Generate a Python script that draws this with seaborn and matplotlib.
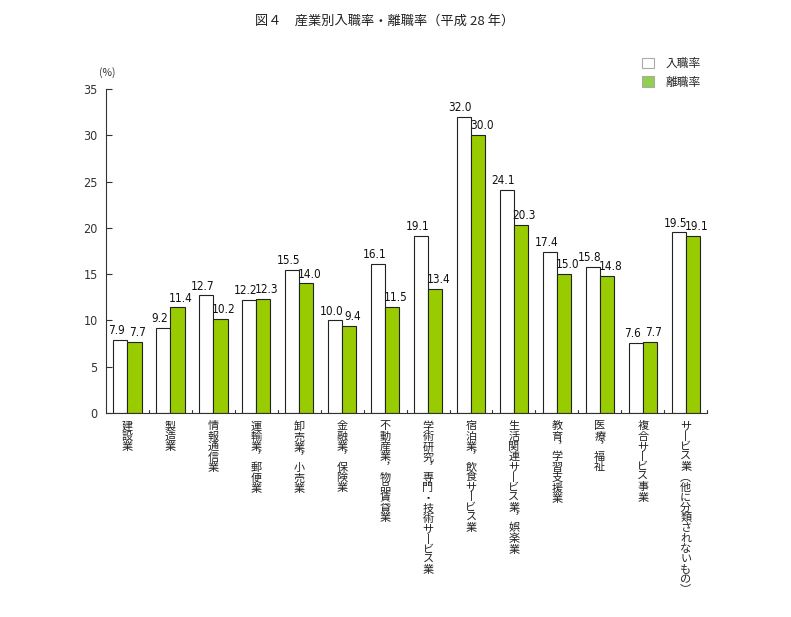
import matplotlib
matplotlib.use("Agg")
import matplotlib.pyplot as plt
from matplotlib import font_manager
import seaborn as sns
import pandas as pd
from matplotlib.patches import Patch

categories = [
    "建設業", "製造業", "情報通信業", "運輸業，郵便業", "卸売業，小売業",
    "金融業，保険業", "不動産業，物品賃貸業", "学術研究，専門・技術サービス業",
    "宿泊業，飲食サービス業", "生活関連サービス業，娯楽業", "教育，学習支援業",
    "医療，福祉", "複合サービス事業", "サービス業（他に分類されないもの）",
]
hire_rate = [7.9, 9.2, 12.7, 12.2, 15.5, 10.0, 16.1, 19.1, 32.0, 24.1, 17.4, 15.8, 7.6, 19.5]
sep_rate = [7.7, 11.4, 10.2, 12.3, 14.0, 9.4, 11.5, 13.4, 30.0, 20.3, 15.0, 14.8, 7.7, 19.1]
series_names = ["入職率", "離職率"]
y_ticks = [0, 5, 10, 15, 20, 25, 30, 35]

sns.set_theme(style="white")
plt.rcParams['font.family'] = ['Noto Sans CJK JP', 'DejaVu Sans']

# pick a narrow font for numbers
try:
    font_manager.findfont(font_manager.FontProperties(family="Liberation Sans Narrow"),
                          fallback_to_default=False)
    num_font = dict(family="Liberation Sans Narrow")
except Exception:
    num_font = dict(family="DejaVu Sans", stretch="condensed")

df = pd.DataFrame({
    "cat": categories * 2,
    "val": hire_rate + sep_rate,
    "series": [series_names[0]] * len(categories) + [series_names[1]] * len(categories),
})

fig = plt.figure(figsize=(7.91, 6.17), dpi=100)
ax = fig.add_axes([0.134, 0.3306, 0.760, 0.5252])

green = "#99CC00"
sns.barplot(data=df, x="cat", y="val", hue="series", order=categories,
            hue_order=series_names, palette=["white", green], width=0.66,
            saturation=1, edgecolor="#222222", linewidth=0.8, legend=False,
            ax=ax, errorbar=None)

for k, cont in enumerate(ax.containers):
    dx = -2.5 if k == 0 else 2.5
    for bar in cont:
        h = bar.get_height()
        ax.annotate(f"{h:.1f}", (bar.get_x() + bar.get_width() / 2, h),
                    xytext=(dx, 2), textcoords="offset points", ha="center",
                    va="bottom", fontsize=8.5, color="#111111", **num_font)

ax.set_ylim(0, 35)
ax.set_xlim(-0.5, len(categories) - 0.5)
ax.set_yticks(y_ticks)
ax.set_yticklabels([str(t) for t in y_ticks], fontsize=9, color="#333333", **num_font)
ax.set_xlabel("")
ax.set_ylabel("")

vmap = {"，": "︐", "、": "︑", "（": "︵", "）": "︶", "ー": "丨"}
def vertical(s):
    return "\n".join(vmap.get(c, c) for c in s)

ax.set_xticks(range(len(categories)))
ax.set_xticklabels([vertical(c) for c in categories], fontsize=8, va="top",
                   linespacing=1.02, color="#222222")
ax.tick_params(axis="x", length=0, pad=6)
for b in range(1, len(categories) + 1):
    ax.plot([b - 0.5, b - 0.5], [0, 0.35], color="#333333", lw=0.8, clip_on=False)
ax.tick_params(axis="y", direction="in", length=4, width=0.8, color="#333333", left=True, pad=6)

for s in ["top", "right"]:
    ax.spines[s].set_visible(False)
for s in ["left", "bottom"]:
    ax.spines[s].set_color("#333333")
    ax.spines[s].set_linewidth(0.8)

fig.text(0.136, 0.877, "(%)", fontsize=7.5, ha="center", color="#333333")
fig.text(0.486, 0.965, "図４　産業別入職率・離職率（平成 28 年）", fontsize=9.5,
         ha="center", va="center", color="#222222")

handles = [Patch(facecolor="white", edgecolor="#aaaaaa", lw=0.8),
           Patch(facecolor="#92D050", edgecolor="#aaaaaa", lw=0.8)]
fig.legend(handles, series_names, loc="upper left", bbox_to_anchor=(0.798, 0.925),
           frameon=False, fontsize=8.5, handlelength=1.0, handleheight=1.0,
           handletextpad=1.0, labelspacing=0.5)

fig.savefig("out.png", dpi=100, facecolor="white")
